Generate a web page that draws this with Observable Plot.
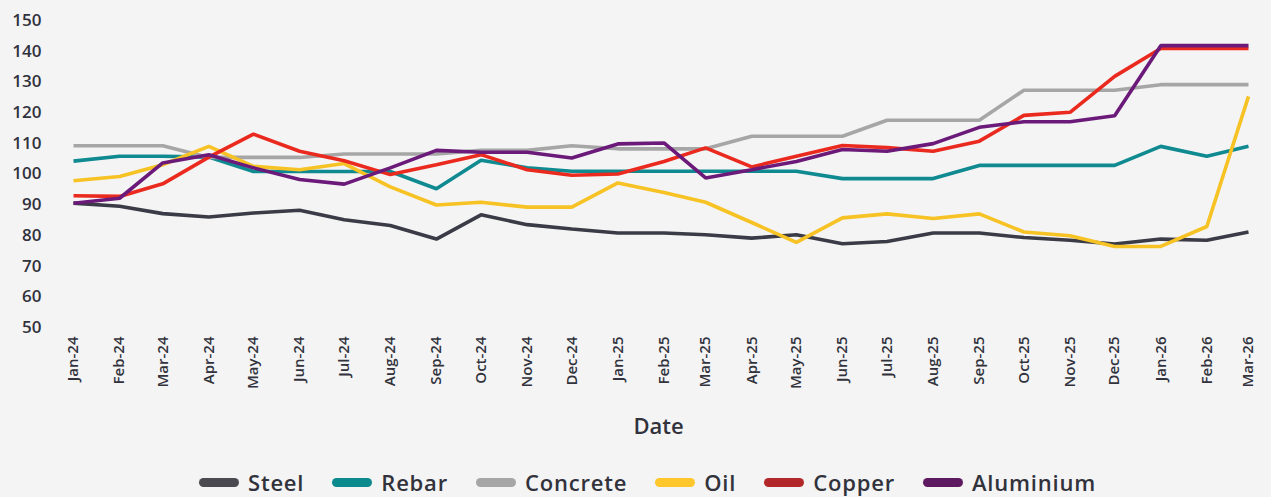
<!DOCTYPE html>
<html>
<head>
<meta charset="utf-8">
<script src="https://cdn.jsdelivr.net/npm/d3@7"></script>
<script src="https://cdn.jsdelivr.net/npm/@observablehq/plot@0.6"></script>
<style>
  html, body { margin: 0; padding: 0; background: #f4f4f4; }
  body { width: 1271px; height: 497px; overflow: hidden; font-family: "Open Sans", sans-serif; color: #31323c; }
  #legend { display: flex; justify-content: center; align-items: center; gap: 28px; margin-top: 20px; margin-left: 24px; font-size: 22px; font-weight: 600; letter-spacing: 0.8px; }
  .item { display: flex; align-items: center; gap: 9px; }
  .sw { width: 40px; height: 9px; border-radius: 4.5px; display: inline-block; }
</style>
</head>
<body>
<div id="chart"></div>
<div id="legend"></div>
<script>
const months = ["2024-01","2024-02","2024-03","2024-04","2024-05","2024-06","2024-07","2024-08","2024-09","2024-10","2024-11","2024-12",
                "2025-01","2025-02","2025-03","2025-04","2025-05","2025-06","2025-07","2025-08","2025-09","2025-10","2025-11","2025-12",
                "2026-01","2026-02","2026-03"];
const seriesNames = ["Steel","Rebar","Concrete","Oil","Copper","Aluminium"];
const lineColors = ["#3a3b46","#0f8a90","#a6a6a6","#f6c224","#ea2a1e","#6b1a79"];
const legendColors = ["#4a4a50","#0a8a8c","#a6a6a6","#ffc72c","#b2282a","#5e1a60"];
const yTicks = [50,60,70,80,90,100,110,120,130,140,150];

const steel    = [90.5,89.5,87.1,86.0,87.3,88.2,85.1,83.2,78.8,86.7,83.5,82.1,80.8,80.8,80.2,79.1,80.2,77.3,78.0,80.8,80.8,79.3,78.4,77.2,78.8,78.4,81.1];
const rebar    = [104.2,105.8,105.8,105.5,100.8,100.8,100.8,100.8,95.2,104.5,102.0,100.9,100.9,100.9,100.9,100.9,100.9,98.5,98.5,98.5,102.8,102.8,102.8,102.8,109.0,105.8,109.0];
const concrete = [109.2,109.2,109.2,105.4,105.4,105.4,106.5,106.5,106.5,107.7,107.7,109.2,108.2,108.2,108.2,112.3,112.3,112.3,117.5,117.5,117.5,127.3,127.3,127.3,129.1,129.1,129.1];
const oil      = [97.8,99.2,103.0,109.0,102.5,101.4,103.4,95.8,89.9,90.8,89.2,89.2,97.1,94.0,90.8,84.2,77.7,85.7,87.0,85.5,87.0,81.1,79.9,76.4,76.4,82.9,125.3];
const copper   = [92.9,92.7,96.8,105.5,113.0,107.4,104.3,99.8,103.0,106.3,101.4,99.6,100.0,104.1,108.5,102.3,105.8,109.3,108.6,107.4,110.7,119.1,120.1,131.8,140.9,140.9,140.9];
const aluminium= [90.5,92.1,103.6,106.3,102.0,98.2,96.7,102.0,107.7,107.1,107.1,105.2,109.8,110.1,98.7,101.4,104.1,108.0,107.4,109.9,115.2,117.0,117.0,119.0,141.8,141.8,141.8];

const allValues = [steel, rebar, concrete, oil, copper, aluminium];
const dates = months.map(m => new Date(m + "-01T00:00:00Z"));
const data = [];
seriesNames.forEach((name, i) => {
  allValues[i].forEach((v, j) => data.push({series: name, date: dates[j], value: v}));
});

const chart = Plot.plot({
  width: 1271,
  height: 447,
  marginTop: 20,
  marginBottom: 120,
  marginLeft: 55,
  marginRight: 10,
  style: {background: "transparent", fontFamily: "Open Sans, sans-serif", color: "#31323c"},
  x: {type: "utc", domain: [dates[0], dates[dates.length - 1]], range: [73, 1248]},
  y: {domain: [50, 150]},
  color: {domain: seriesNames, range: lineColors},
  marks: [
    Plot.ruleY(yTicks, {stroke: "#d6d6de", strokeWidth: 1.2, x1: 55, x2: 1261}),
    Plot.axisY(yTicks, {tickSize: 0, tickPadding: 14, fontSize: 17, fontWeight: 600, label: null, fill: "#31323c"}),
    Plot.axisX(dates, {tickSize: 0, tickPadding: 9, tickRotate: -90, fontSize: 15, fontWeight: 600, label: null, fill: "#31323c", tickFormat: d3.utcFormat("%b-%y"), style: {letterSpacing: "1.3px"}}),
    Plot.text(["Date"], {frameAnchor: "bottom", dy: 106, fontSize: 22, fontWeight: 600, fill: "#31323c", style: {letterSpacing: "0.8px"}}),
    Plot.line(data, {x: "date", y: "value", z: "series", stroke: "series", strokeWidth: 3.6, strokeLinejoin: "miter", strokeLinecap: "butt"})
  ]
});
document.getElementById("chart").appendChild(chart);

const legend = document.getElementById("legend");
seriesNames.forEach((name, i) => {
  const item = document.createElement("div");
  item.className = "item";
  const sw = document.createElement("span");
  sw.className = "sw";
  sw.style.background = legendColors[i];
  const t = document.createElement("span");
  t.textContent = name;
  item.appendChild(sw);
  item.appendChild(t);
  legend.appendChild(item);
});
</script>
</body>
</html>
